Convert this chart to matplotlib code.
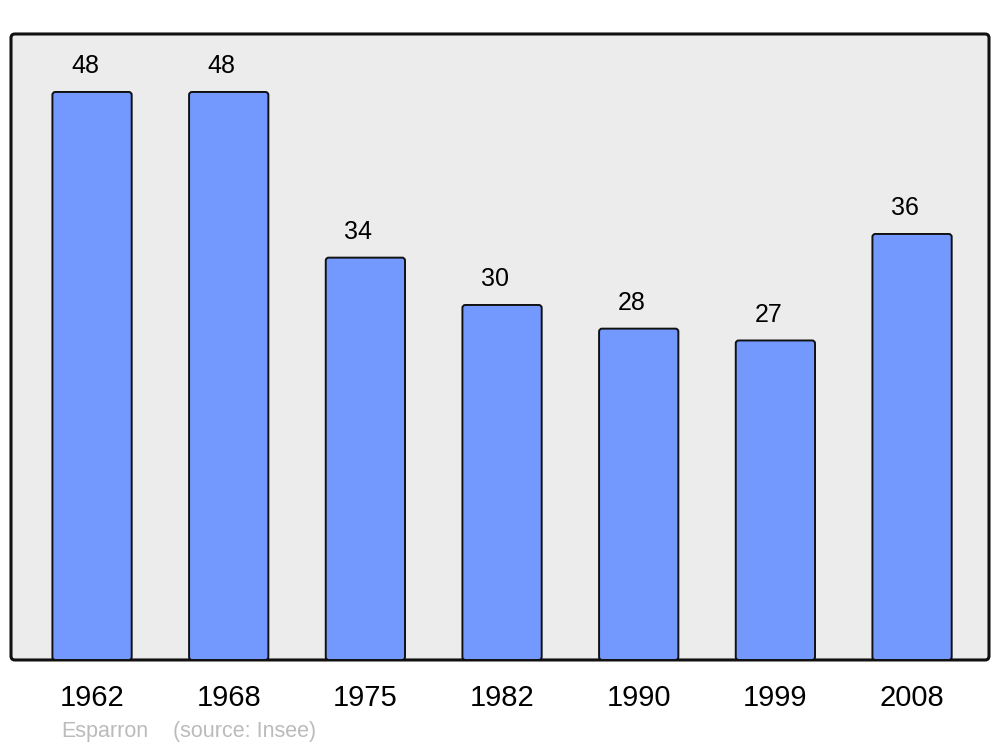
import matplotlib.pyplot as plt
from matplotlib.patches import FancyBboxPatch

plt.rcParams['font.family'] = ['Liberation Sans', 'DejaVu Sans']

years = ['1962', '1968', '1975', '1982', '1990', '1999', '2008']
population = [48, 48, 34, 30, 28, 27, 36]
commune = 'Esparron'
source = '(source: Insee)'

fig = plt.figure(figsize=(10, 7.47), dpi=100)
ax = fig.add_axes([0.011, 0.1165, 0.978, 0.838])
ax.set_facecolor('none')

# rounded grey frame
frame = FancyBboxPatch((0, 0), 1, 1, boxstyle='round,pad=0,rounding_size=0.004',
                       mutation_aspect=1.6, transform=ax.transAxes,
                       facecolor='#ececec', edgecolor='#111111', linewidth=2.2,
                       clip_on=False, zorder=0)
ax.add_patch(frame)

x = list(range(len(years)))
bars = ax.bar(x, population, width=0.58, color='none', edgecolor='none')
for b in bars:
    ax.add_patch(FancyBboxPatch((b.get_x(), 0), b.get_width(), b.get_height(),
                                boxstyle='round,pad=0,rounding_size=0.022',
                                mutation_aspect=11.4, facecolor='#7399ff',
                                edgecolor='#111111', linewidth=1.4, zorder=2))

for xi, v in zip(x, population):
    ax.annotate(str(v), (xi, v), xytext=(-5, 10), textcoords='offset points',
                ha='center', va='bottom', fontsize=18)

ax.set_xlim(-0.593, 6.563)
ax.set_ylim(0, 52.9)
ax.set_xticks(x)
ax.set_xticklabels(years, fontsize=21)
ax.tick_params(axis='x', length=0, pad=17)
ax.set_yticks([])
for s in ax.spines.values():
    s.set_visible(False)

fig.text(0.061, 0.0205, commune, color='#bbbbbb', fontsize=15.5, va='center')
fig.text(0.173, 0.0205, source, color='#bbbbbb', fontsize=15.5, va='center')

fig.savefig('out.png', dpi=100)
